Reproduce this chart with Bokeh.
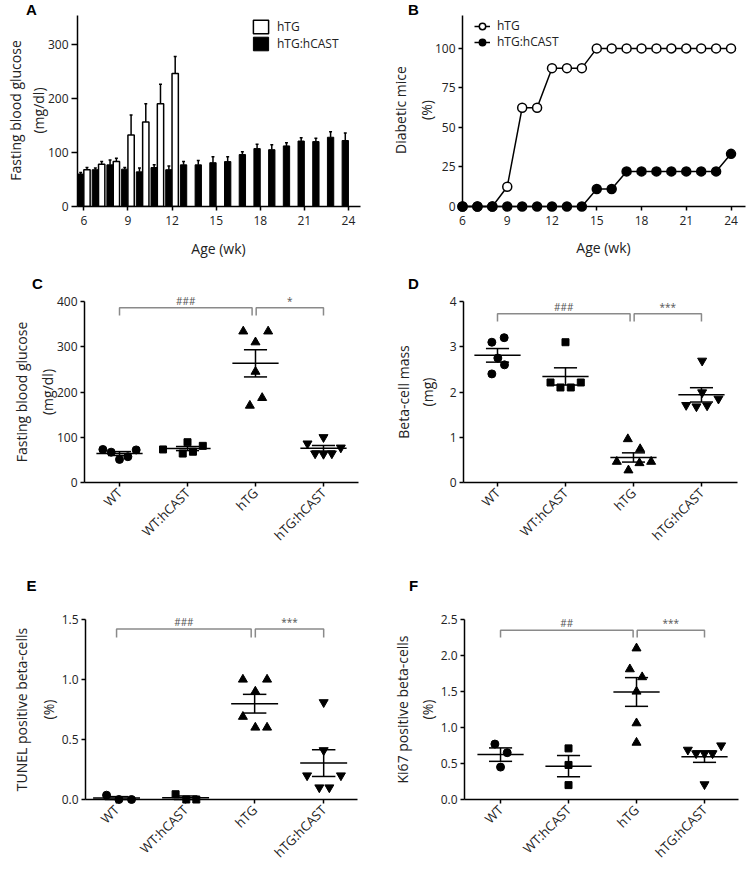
import math
import numpy as np
from bokeh.plotting import figure
from bokeh.layouts import column, row
from bokeh.models import Legend, LegendItem, Range1d, FixedTicker
from bokeh.core.properties import value
from bokeh.embed import file_html
from bokeh.resources import INLINE

FONT = "Open Sans"
BOLD = "Liberation Sans"
TXT = "#222222"

# ---------------- data ----------------
# Panel A: fasting blood glucose (mean, SEM) by age
weeks_hcast = [6, 7, 8, 9, 10, 11, 12, 13, 14, 15, 16, 17, 18, 19, 20, 21, 22, 23, 24]
glucose_hcast = [60, 68, 77, 69, 64, 72, 68, 77, 77, 81, 83, 96, 107, 105, 112, 121, 120, 128, 122]
glucose_hcast_sem = [3, 3, 9, 3, 7, 5, 7, 6, 8, 11, 9, 5, 8, 9, 6, 6, 6, 10, 14]
weeks_htg = [6, 7, 8, 9, 10, 11, 12]
glucose_htg = [68, 78, 83, 132, 156, 190, 246]
glucose_htg_sem = [4, 5, 6, 37, 34, 36, 31]
a_ticks = [6, 9, 12, 15, 18, 21, 24]
a_yticks = [0, 100, 200, 300]

# Panel B: diabetic mice (%)
weeks_b = [6, 7, 8, 9, 10, 11, 12, 13, 14, 15, 16, 17, 18, 19, 20, 21, 22, 23, 24]
diabetic_htg = [0, 0, 0, 12.5, 62.5, 62.5, 87.5, 87.5, 87.5, 100, 100, 100, 100, 100, 100, 100, 100, 100, 100]
diabetic_hcast = [0, 0, 0, 0, 0, 0, 0, 0, 0, 11.1, 11.1, 22.2, 22.2, 22.2, 22.2, 22.2, 22.2, 22.2, 33.3]
b_yticks = [0, 25, 50, 75, 100]

groups = ["WT", "WT:hCAST", "hTG", "hTG:hCAST"]

# Panel C: fasting blood glucose (mg/dl)
c_wt = [73, 67, 51, 57, 72]
c_wt_hcast = [73, 64, 89, 68, 81]
c_htg = [334, 310, 334, 245, 170, 187]
c_htg_hcast = [86, 100, 64, 63, 64, 77]
c_sig = ["###", "*"]
c_yticks = [0, 100, 200, 300, 400]

# Panel D: beta-cell mass (mg)
d_wt = [3.1, 3.2, 2.75, 2.6, 2.4]
d_wt_hcast = [3.1, 2.21, 2.1, 2.1, 2.21]
d_htg = [0.96, 0.74, 0.46, 0.43, 0.46, 0.27]
d_htg_hcast = [2.69, 1.99, 1.71, 1.68, 1.70, 1.85]
d_sig = ["###", "***"]
d_yticks = [0, 1, 2, 3, 4]

# Panel E: TUNEL positive beta-cells (%)
e_wt = [0.036, 0.0, 0.0]
e_wt_hcast = [0.044, 0.0, 0.0]
e_htg = [1.0, 1.0, 0.9, 0.69, 0.6, 0.6]
e_htg_hcast = [0.81, 0.41, 0.2, 0.2, 0.1, 0.1]
e_sig = ["###", "***"]
e_yticks = [0, 0.5, 1.0, 1.5]

# Panel F: Ki67 positive beta-cells (%)
f_wt = [0.77, 0.65, 0.45]
f_wt_hcast = [0.71, 0.48, 0.2]
f_htg = [2.1, 1.81, 1.70, 1.5, 1.06, 0.79]
f_htg_hcast = [0.69, 0.64, 0.64, 0.64, 0.75, 0.21]
f_sig = ["##", "***"]
f_yticks = [0, 0.5, 1.0, 1.5, 2.0, 2.5]

# ---------------- layout (jitter of scatter points, in category units) ----------------
JIT_C = [[-0.245, -0.123, 0, 0.123, 0.245], [-0.36, -0.07, 0, 0.08, 0.225],
         [-0.18, 0, 0.186, 0, -0.083, 0.098], [-0.235, 0, -0.123, 0, 0.123, 0.255]]
JIT_D = [[-0.083, 0.098, 0.005, 0.103, -0.083], [0, -0.22, -0.074, 0.078, 0.225],
         [-0.083, 0.098, -0.245, 0.088, 0.26, -0.074], [0.01, 0.01, -0.225, -0.074, 0.083, 0.25]]
JIT_E = [[-0.145, 0.034, 0.217], [-0.145, 0.01, 0.155],
         [-0.17, 0.18, 0.01, -0.17, 0.01, 0.18], [0, 0, -0.24, 0.25, -0.063, 0.082]]
JIT_F = [[-0.083, 0.098, 0], [0, 0, 0],
         [0, -0.098, 0.083, 0, 0, 0], [-0.245, -0.123, 0, 0.118, 0.245, 0]]
MARKERS = [("circle", 8), ("square", 7), ("triangle", 9), ("inverted_triangle", 9)]


def make_fig(box, frame, xr, yr):
    x0, y0, w, h = box
    fl, fr, ft, fb = frame
    p = figure(width=w, height=h, x_range=Range1d(*xr), y_range=Range1d(*yr),
               output_backend="svg", toolbar_location=None,
               min_border_left=fl - x0, min_border_right=x0 + w - fr,
               min_border_top=ft - y0, min_border_bottom=y0 + h - fb)
    p.outline_line_color = None
    p.grid.visible = False
    p.background_fill_color = "white"
    p.border_fill_color = "white"
    for ax in (p.xaxis[0], p.yaxis[0]):
        ax.axis_line_width = 1.5
        ax.axis_line_color = "black"
        ax.major_tick_line_width = 1.5
        ax.major_tick_line_color = "black"
        ax.major_tick_in = 0
        ax.major_tick_out = 4
        ax.minor_tick_line_color = None
        ax.major_label_text_font = FONT
        ax.major_label_text_font_size = "12px"
        ax.major_label_text_color = TXT
    p.yaxis[0].major_label_standoff = 3
    p.xaxis[0].major_label_standoff = 5
    p._frame = (frame, xr, yr)
    return p


def add_text(p, px, py, text, size="14px", angle=0, align="center", baseline="middle",
             bold=False, color=TXT):
    (fl, fr, ft, fb), xr, yr = p._frame
    x = xr[0] + (px - fl) / (fr - fl) * (xr[1] - xr[0])
    y = yr[0] + (fb - py) / (fb - ft) * (yr[1] - yr[0])
    p.text(x=[x], y=[y], text=[text], angle=angle, text_align=align, text_baseline=baseline,
           text_font=value(BOLD if bold else FONT), text_font_size=size,
           text_font_style="bold" if bold else "normal", text_color=color, level="overlay")


def add_legend_row(p, label, renderers, loc, gw, gh):
    leg = Legend(items=[LegendItem(label=label, renderers=renderers)], location=loc,
                 glyph_width=gw, glyph_height=gh, label_height=gh, spacing=0, padding=0, margin=0,
                 label_standoff=7, border_line_color=None, background_fill_alpha=0,
                 label_text_font=FONT, label_text_font_size="12px", label_text_color=TXT)
    p.add_layout(leg)


# ---------------- Panel A ----------------
pa = make_fig((0, 0, 375, 262), (77, 360, 15, 206), (5.57, 24.82), (0, 353))
pa.xaxis.ticker = FixedTicker(ticks=a_ticks)
pa.yaxis.ticker = FixedTicker(ticks=a_yticks)
pa.yaxis.major_tick_out = 6
bw = 0.43
xb = [w - bw / 2 for w in weeks_hcast]
xw = [w + bw / 2 for w in weeks_htg]
rb = pa.vbar(x=xb, top=glucose_hcast, width=bw, fill_color="black", line_color="black", line_width=1)
rw = pa.vbar(x=xw, top=glucose_htg, width=bw, fill_color="white", line_color="black", line_width=1.5)
for xs, ys, es in ((xb, glucose_hcast, glucose_hcast_sem), (xw, glucose_htg, glucose_htg_sem)):
    tops = [y + e for y, e in zip(ys, es)]
    pa.segment(x0=xs, y0=ys, x1=xs, y1=tops, line_color="black", line_width=1.5)
    pa.segment(x0=[x - 0.1 for x in xs], y0=tops, x1=[x + 0.1 for x in xs], y1=tops,
               line_color="black", line_width=1.5)
add_legend_row(pa, "hTG", [rw], (174, 171), 19, 17)
add_legend_row(pa, "hTG:hCAST", [rb], (174, 154), 19, 17)
add_text(pa, 31, 9, "A", size="15px", bold=True, color="black")
add_text(pa, 15, 110, "Fasting blood glucose", angle=math.pi / 2)
add_text(pa, 38, 110, "(mg/dl)", angle=math.pi / 2)
add_text(pa, 218, 248, "Age (wk)")

# ---------------- Panel B ----------------
pb = make_fig((375, 0, 376, 262), (462, 745, 15, 207), (6, 24.97), (0, 120.8))
pb.xaxis.ticker = FixedTicker(ticks=a_ticks)
pb.yaxis.ticker = FixedTicker(ticks=b_yticks)
l1 = pb.line(weeks_b, diabetic_htg, line_color="black", line_width=1.5, level="overlay")
s1 = pb.scatter(weeks_b, diabetic_htg, marker="circle", size=9, fill_color="white",
                line_color="black", line_width=1.5, level="overlay")
l2 = pb.line(weeks_b, diabetic_hcast, line_color="black", line_width=1.5, level="overlay")
s2 = pb.scatter(weeks_b, diabetic_hcast, marker="circle", size=9, fill_color="black",
                line_color="black", line_width=1.5, level="overlay")
add_legend_row(pb, "hTG", [l1, s1], (12, 172), 16, 16)
add_legend_row(pb, "hTG:hCAST", [l2, s2], (12, 156), 16, 16)
add_text(pb, 413, 9, "B", size="15px", bold=True, color="black")
add_text(pb, 400, 110, "Diabetic mice", angle=math.pi / 2)
add_text(pb, 426, 110, "(%)", angle=math.pi / 2)
add_text(pb, 603, 248, "Age (wk)")


# ---------------- scatter panels ----------------
def scatter_panel(box, frame, xr, yr, yticks, fmt, series, jit, sig, br_y, letter, letter_xy, t1, t2, tx):
    p = make_fig(box, frame, xr, yr)
    p.xaxis.ticker = FixedTicker(ticks=[0, 1, 2, 3])
    p.xaxis.major_label_overrides = {i: g for i, g in enumerate(groups)}
    p.xaxis.major_label_orientation = math.pi / 4
    p.xaxis.major_label_standoff = 4
    p.xaxis.major_label_text_font_size = "13px"
    p.yaxis.ticker = FixedTicker(ticks=yticks)
    p.yaxis.major_label_overrides = {t: fmt.format(t) for t in yticks}
    for i, vals in enumerate(series):
        xs = [i + j for j in jit[i]]
        mk, sz = MARKERS[i]
        p.scatter(xs, vals, marker=mk, size=sz, fill_color="black", line_color="black", level="overlay")
        m = float(np.mean(vals))
        s = float(np.std(vals, ddof=1) / np.sqrt(len(vals)))
        p.segment(x0=[i - 0.34, i - 0.17, i - 0.17, i], y0=[m, m + s, m - s, m - s],
                  x1=[i + 0.34, i + 0.17, i + 0.17, i], y1=[m, m + s, m - s, m + s],
                  line_color="black", line_width=1.5, level="overlay")
    top, drop = br_y
    brs = [(0, 1.95), (2.01, 3)]
    for (a, b), lab in zip(brs, sig):
        p.multi_line(xs=[[a, a, b, b]], ys=[[drop, top, top, drop]], line_color="#8a8a8a",
                     line_width=1.5, level="overlay")
        p.text(x=[(a + b) / 2], y=[top], y_offset=0, text=[lab], text_align="center",
               text_baseline="bottom", text_font=value(FONT), text_font_size="10px",
               text_color="#555555", level="overlay")
    add_text(p, letter_xy[0], letter_xy[1], letter, size="15px", bold=True, color="black")
    fy = (frame[2] + frame[3]) / 2
    add_text(p, tx[0], fy, t1, angle=math.pi / 2)
    add_text(p, tx[1], fy, t2, angle=math.pi / 2)
    return p


pc = scatter_panel((0, 262, 375, 303), (84, 358, 301, 482), (-0.515, 3.515), (0, 400),
                   c_yticks, "{:.0f}", [c_wt, c_wt_hcast, c_htg, c_htg_hcast],
                   JIT_C, c_sig, (386, 369), "C", (37, 283), "Fasting blood glucose", "(mg/dl)", (21, 47))
pd_ = scatter_panel((375, 262, 376, 303), (463, 737, 301, 482), (-0.5, 3.53), (0, 4),
                    d_yticks, "{:.0f}", [d_wt, d_wt_hcast, d_htg, d_htg_hcast],
                    JIT_D, d_sig, (3.73, 3.56), "D", (413, 283), "Beta-cell mass", "(mg)", (403, 427))
pe = scatter_panel((0, 565, 375, 328), (85, 357, 619, 799), (-0.45, 3.49), (0, 1.5),
                   e_yticks, "{:.1f}", [e_wt, e_wt_hcast, e_htg, e_htg_hcast],
                   JIT_E, e_sig, (1.42, 1.35), "E", (31, 585), "TUNEL positive beta-cells", "(%)", (21, 48))
pf = scatter_panel((375, 565, 376, 328), (464, 738, 619, 799), (-0.53, 3.5), (0, 2.5),
                   f_yticks, "{:.1f}", [f_wt, f_wt_hcast, f_htg, f_htg_hcast],
                   JIT_F, f_sig, (2.35, 2.25), "F", (413, 585), "Ki67 positive beta-cells", "(%)", (402, 427))

layout = column(row(pa, pb, spacing=0), row(pc, pd_, spacing=0), row(pe, pf, spacing=0), spacing=0)
open("out.html", "w").write(file_html(layout, INLINE))
